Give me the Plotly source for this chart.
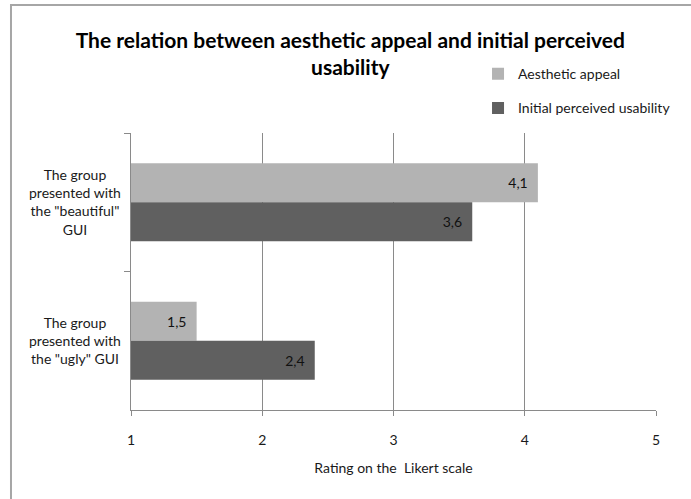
import plotly.graph_objects as go

categories = ['The group<br>presented with<br>the "beautiful"<br>GUI', 'The group<br>presented with<br>the "ugly" GUI']
aesthetic = [4.1, 1.5]
usability = [3.6, 2.4]
series_names = ["Aesthetic appeal", "Initial perceived usability"]
x_ticks = [1, 2, 3, 4, 5]

FONT = "Lato"
FS = 14
fig = go.Figure()
fig.add_trace(go.Bar(
    y=categories, x=aesthetic, orientation="h", name=series_names[0],
    marker=dict(color="#b3b3b3", line=dict(width=0)),
    texttemplate="%{x:.1f}\u00a0\u00a0", textposition="inside", insidetextanchor="end",
    textfont=dict(family=FONT, size=FS, color="#111111"), legendgroup="a",
))
fig.add_trace(go.Bar(
    y=categories, x=usability, orientation="h", name=series_names[1],
    marker=dict(color="#606060", line=dict(width=0)),
    texttemplate="%{x:.1f}\u00a0\u00a0", textposition="inside", insidetextanchor="end",
    textfont=dict(family=FONT, size=FS, color="#111111"), legendgroup="b",
))

for c in categories:
    fig.add_annotation(x=-0.107, y=c, xref="paper", yref="y", text=c, showarrow=False,
                       align="center", xanchor="center", yanchor="middle",
                       font=dict(family=FONT, size=FS, color="#1a1a1a"))

fig.add_shape(type="rect", xref="paper", yref="paper", x0=-0.2286, x1=1.2, y0=-0.5, y1=1.462,
              line=dict(color="#a6a6a6", width=2), fillcolor="rgba(0,0,0,0)", layer="below")

fig.update_layout(
    width=691, height=499,
    margin=dict(l=131, r=35, t=133, b=89),
    paper_bgcolor="white", plot_bgcolor="white",
    separators=",.",
    barmode="group", bargap=0.437, bargroupgap=0,
    font=dict(family=FONT, size=FS, color="#1a1a1a"),
    title=dict(text="The relation between aesthetic appeal and initial perceived<br>usability",
               x=0.507, xanchor="center", y=1 - 48 / 499, yanchor="top", yref="container",
               font=dict(family=FONT, size=21, color="#000000", weight="bold")),
    showlegend=True,
    legend=dict(x=0.661, y=1.27, xanchor="left", yanchor="top", traceorder="grouped",
                tracegroupgap=13, font=dict(family=FONT, size=FS, color="#1a1a1a"),
                bgcolor="rgba(0,0,0,0)", itemwidth=30),
    xaxis=dict(range=[1, 5], tickvals=x_ticks, ticktext=[str(t) for t in x_ticks],
               showgrid=True, gridcolor="#8a8a8a", gridwidth=1,
               showline=True, linecolor="#8a8a8a", linewidth=1,
               ticks="outside", ticklen=5, tickcolor="#8a8a8a",
               ticklabelstandoff=12, zeroline=False,
               title=dict(text="Rating on the  Likert scale", standoff=16,
                          font=dict(family=FONT, size=FS, color="#1a1a1a"))),
    yaxis=dict(autorange="reversed", showticklabels=False, tickson="boundaries",
               ticks="outside", ticklen=6, tickcolor="#8a8a8a",
               showline=True, linecolor="#8a8a8a", linewidth=1, showgrid=False),
)

fig.write_html("out.html")
